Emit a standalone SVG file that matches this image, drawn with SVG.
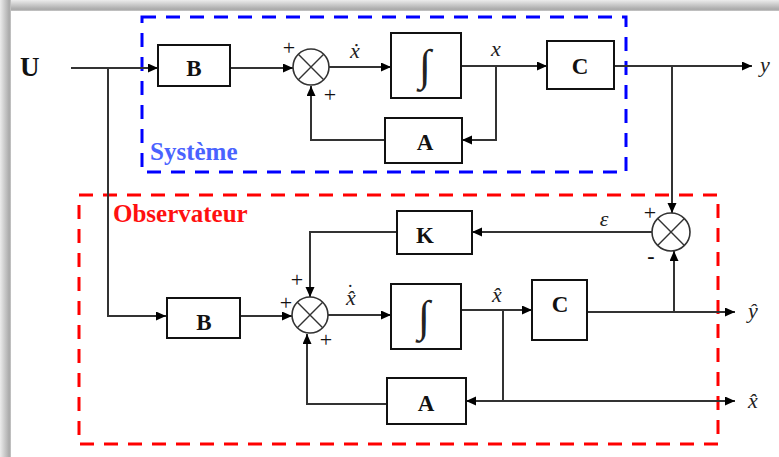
<svg xmlns="http://www.w3.org/2000/svg" width="779" height="457" viewBox="0 0 779 457">
<defs>
<linearGradient id="gTop" x1="0" y1="0" x2="0" y2="1">
<stop offset="0" stop-color="#ececec"/><stop offset="0.85" stop-color="#a9a9a9"/><stop offset="1" stop-color="#c8c8c8"/>
</linearGradient>
<linearGradient id="gLeft" x1="0" y1="0" x2="1" y2="0">
<stop offset="0" stop-color="#ececec"/><stop offset="0.85" stop-color="#a9a9a9"/><stop offset="1" stop-color="#c8c8c8"/>
</linearGradient>
<marker id="arr" markerWidth="11" markerHeight="10" refX="10" refY="4.5" orient="auto" markerUnits="userSpaceOnUse">
<path d="M0,0 L10,4.5 L0,9 z" fill="#000"/>
</marker>
<style>
.box{fill:#fff;stroke:#111;stroke-width:2}
.lbl{font-family:"Liberation Serif","Times New Roman",serif;font-weight:bold;font-size:23px;fill:#111;text-anchor:middle}
.math{font-family:"Liberation Serif","Times New Roman",serif;font-style:italic;font-size:22px;fill:#222;text-anchor:middle}
.int{font-family:"Liberation Serif","Times New Roman",serif;font-size:44px;fill:#222;text-anchor:middle}
.sgn{font-family:"Liberation Serif","Times New Roman",serif;font-size:22px;fill:#111;text-anchor:middle}
.ln{fill:none;stroke:#333;stroke-width:2}
.ar{marker-end:url(#arr)}
.sum circle{fill:#fff;stroke:#333;stroke-width:1.6}
.sum path{stroke:#333;stroke-width:1.4}
</style>
</defs>
<rect width="779" height="457" fill="#fff"/>
<rect x="0" y="0" width="779" height="11" fill="url(#gTop)"/>
<rect x="0" y="0" width="11" height="457" fill="url(#gLeft)"/>

<!-- frames -->
<g id="systeme">
<rect x="142" y="17" width="484" height="155" fill="none" stroke="#0000ff" stroke-width="3" stroke-dasharray="14,10"/>
<text x="150" y="160" font-family="Liberation Serif, serif" font-weight="bold" font-size="25" fill="#4a63ff">Système</text>
</g>
<g id="observateur">
<rect x="79" y="195" width="639" height="249" fill="none" stroke="#ff0000" stroke-width="3" stroke-dasharray="14,10"/>
<text x="113" y="222" font-family="Liberation Serif, serif" font-weight="bold" font-size="25" fill="#ff1010">Observateur</text>
</g>

<!-- connectors -->
<g id="connectors">
<path class="ln ar" d="M71,68 H158"/>
<path class="ln ar" d="M108,68 V316 H166"/>
<path class="ln ar" d="M230,68 H293"/>
<path class="ln ar" d="M329,67 H391"/>
<path class="ln ar" d="M461,66 H547"/>
<path class="ln ar" d="M496,66 V140 H462"/>
<path class="ln ar" d="M385,140 H311 V86"/>
<path class="ln ar" d="M614,66 H752"/>
<path class="ln ar" d="M672,66 V213"/>
<path class="ln ar" d="M652,232 H472"/>
<path class="ln ar" d="M397,232 H310 V297"/>
<path class="ln ar" d="M240,316 H292"/>
<path class="ln ar" d="M328,315 H391"/>
<path class="ln ar" d="M461,310 H532"/>
<path class="ln" d="M503,310 V401"/>
<path class="ln ar" d="M503,401 H466"/>
<path class="ln ar" d="M503,401 H735"/>
<path class="ln ar" d="M387,404 H307 V334"/>
<path class="ln ar" d="M587,312 H735"/>
<path class="ln ar" d="M674,312 V251"/>
<text class="math" x="351" y="305">x̂<tspan dx="-8" dy="-18" font-size="18" font-style="normal">.</tspan></text>
<text class="math" x="355" y="58">ẋ</text>
<text class="math" x="496" y="56">x</text>
<text class="math" x="765" y="72">y</text>
<text class="math" x="604" y="226">ε</text>
<text class="math" x="497" y="302">x̂</text>
<text class="math" x="753" y="318">ŷ</text>
<text class="math" x="753" y="408">x̂</text>
</g>

<text x="20" y="76" font-family="Liberation Serif, serif" font-weight="bold" font-size="27" fill="#111">U</text>

<g id="B1"><rect class="box" x="158" y="45" width="72" height="41"/><text class="lbl" x="194" y="76">B</text></g>
<g id="S1" class="sum"><circle cx="311" cy="67" r="18"/><path d="M298.3,54.3 L323.7,79.7 M323.7,54.3 L298.3,79.7"/>
<text class="sgn" x="289" y="55">+</text><text class="sgn" x="330" y="102">+</text></g>
<g id="I1"><rect class="box" x="391" y="33" width="70" height="65"/><text class="int" x="425" y="80">∫</text></g>
<g id="A1"><rect class="box" x="385" y="118" width="77" height="45"/><text class="lbl" x="425" y="150">A</text></g>
<g id="C1"><rect class="box" x="547" y="41" width="67" height="48"/><text class="lbl" x="580" y="74">C</text></g>

<g id="S2" class="sum"><circle cx="671" cy="232" r="19"/><path d="M657.6,218.6 L684.4,245.4 M684.4,218.6 L657.6,245.4"/>
<text class="sgn" x="650" y="220">+</text><text class="sgn" x="651" y="263" font-weight="bold">-</text></g>
<g id="K"><rect class="box" x="397" y="211" width="75" height="43"/><text class="lbl" x="425" y="243">K</text></g>
<g id="B2"><rect class="box" x="167" y="298" width="73" height="40"/><text class="lbl" x="204" y="330">B</text></g>
<g id="S3" class="sum"><circle cx="310" cy="315" r="18"/><path d="M297.3,302.3 L322.7,327.7 M322.7,302.3 L297.3,327.7"/>
<text class="sgn" x="297" y="287">+</text><text class="sgn" x="286" y="310">+</text><text class="sgn" x="326" y="347">+</text></g>
<g id="I2"><rect class="box" x="391" y="284" width="70" height="65"/><text class="int" x="424" y="331">∫</text></g>
<g id="C2"><rect class="box" x="532" y="280" width="55" height="60"/><text class="lbl" x="560" y="312">C</text></g>
<g id="A2"><rect class="box" x="387" y="378" width="79" height="46"/><text class="lbl" x="426" y="411">A</text></g>
</svg>
